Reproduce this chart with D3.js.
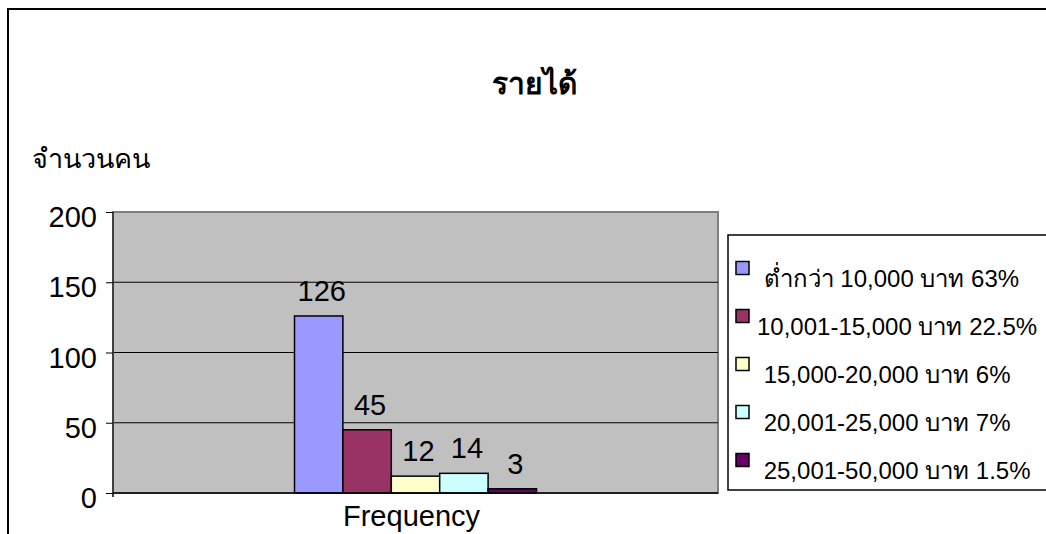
<!DOCTYPE html>
<html lang="th">
  <head>
    <meta charset="UTF-8" />
    <title>รายได้</title>
    <style>
      body { margin: 0; background: #fff; }
      svg text { font-family: 'Liberation Sans', Arial, sans-serif; fill: #000; white-space: pre; }
    </style>
  </head>
  <body>
    <svg width="1046" height="534"></svg>
    <script src="https://cdn.jsdelivr.net/npm/d3@7"></script>
    <script>
      const categories = ['Frequency'];
      const seriesNames = [
        ' ต่ำกว่า 10,000 บาท 63%',
        '10,001-15,000 บาท 22.5%',
        ' 15,000-20,000 บาท 6%',
        ' 20,001-25,000 บาท 7%',
        ' 25,001-50,000 บาท 1.5%'
      ];
      const values = [126, 45, 12, 14, 3];
      const colors = ['#9999ff', '#993366', '#ffffcc', '#ccffff', '#660066'];
      const yTicks = [0, 50, 100, 150, 200];

      const svg = d3.select('svg');
      const plot = { left: 113, right: 718, top: 212, bottom: 493 };

      // chart frame (runs past the picture on the right and bottom)
      svg.append('rect')
        .attr('x', 8).attr('y', 9)
        .attr('width', 1080).attr('height', 560)
        .attr('fill', '#fff').attr('stroke', '#000').attr('stroke-width', 2);

      const y = d3.scaleLinear().domain([0, 200]).range([plot.bottom, plot.top]);
      const x0 = d3.scaleBand().domain(categories)
        .range([plot.left, plot.right]).paddingInner(0).paddingOuter(0.75);
      const x1 = d3.scaleBand().domain(seriesNames).range([0, x0.bandwidth()]);
      const color = d3.scaleOrdinal().domain(seriesNames).range(colors);

      // plot area
      svg.append('rect')
        .attr('x', plot.left).attr('y', plot.top)
        .attr('width', plot.right - plot.left).attr('height', plot.bottom - plot.top)
        .attr('fill', '#c0c0c0').attr('stroke', '#808080').attr('stroke-width', 2);

      // gridlines
      svg.append('g')
        .selectAll('line')
        .data(yTicks.filter((d) => d > 0 && d < 200))
        .enter()
        .append('line')
        .attr('x1', plot.left).attr('x2', plot.right)
        .attr('y1', (d) => y(d)).attr('y2', (d) => y(d))
        .attr('stroke', '#000').attr('stroke-width', 1);

      // bars
      const bars = svg.append('g')
        .selectAll('g')
        .data(categories)
        .enter()
        .append('g')
        .attr('transform', (d) => `translate(${x0(d)},0)`);

      bars.selectAll('rect')
        .data(seriesNames.map((s, i) => ({ s, v: values[i] })))
        .enter()
        .append('rect')
        .attr('x', (d) => x1(d.s))
        .attr('y', (d) => y(d.v))
        .attr('width', x1.bandwidth())
        .attr('height', (d) => y(0) - y(d.v))
        .attr('fill', (d) => color(d.s))
        .attr('stroke', '#000').attr('stroke-width', 1.5);

      bars.selectAll('text')
        .data(seriesNames.map((s, i) => ({ s, v: values[i] })))
        .enter()
        .append('text')
        .attr('x', (d) => x1(d.s) + x1.bandwidth() / 2 + 3)
        .attr('y', (d) => y(d.v) - 15)
        .attr('text-anchor', 'middle')
        .attr('font-size', 29)
        .text((d) => d.v);

      // y axis
      const yAxis = svg.append('g')
        .attr('transform', `translate(${plot.left},0)`)
        .call(d3.axisLeft(y).tickValues(yTicks).tickSize(7).tickPadding(9));
      yAxis.select('.domain').attr('stroke', '#404040').attr('stroke-width', 2)
        .attr('d', `M0,${plot.top}V${plot.bottom + 4}`);
      yAxis.selectAll('.tick line').attr('stroke', '#000');
      yAxis.selectAll('.tick text')
        .attr('font-size', 29)
        .attr('font-family', "'Liberation Sans', Arial, sans-serif")
        .attr('dy', '0.85em')
        .attr('y', -10);

      // x axis
      const xAxis = svg.append('g')
        .attr('transform', `translate(0,${plot.bottom})`)
        .call(d3.axisBottom(x0).tickSize(0).tickPadding(0));
      xAxis.select('.domain').attr('stroke', '#000').attr('stroke-width', 1.5)
        .attr('d', `M${plot.left},0H${plot.right}`);
      xAxis.selectAll('.tick text')
        .attr('font-size', 29)
        .attr('font-family', "'Liberation Sans', Arial, sans-serif")
        .attr('dy', 0)
        .attr('y', 33)
        .attr('x', -4);

      // titles
      svg.append('text')
        .attr('x', 534).attr('y', 94)
        .attr('text-anchor', 'middle')
        .attr('font-size', 30).attr('font-weight', 'bold')
        .text('รายได้');

      svg.append('text')
        .attr('x', 32).attr('y', 168)
        .attr('font-size', 27)
        .text('จำนวนคน');

      // legend
      const legend = svg.append('g');
      legend.append('rect')
        .attr('x', 728).attr('y', 235)
        .attr('width', 400).attr('height', 255)
        .attr('fill', '#fff').attr('stroke', '#000').attr('stroke-width', 1.5);

      const ly = d3.scalePoint().domain(seriesNames).range([268, 460]);
      const item = legend.selectAll('g.item')
        .data(seriesNames)
        .enter()
        .append('g')
        .attr('class', 'item')
        .attr('transform', (d) => `translate(736,${ly(d)})`);

      item.append('rect')
        .attr('x', 0).attr('y', -6.5)
        .attr('width', 13).attr('height', 13)
        .attr('fill', (d) => color(d))
        .attr('stroke', '#000').attr('stroke-width', 1.5);

      item.append('text')
        .attr('x', 21).attr('y', 19)
        .attr('font-size', 24)
        .text((d) => d);
    </script>
  </body>
</html>
